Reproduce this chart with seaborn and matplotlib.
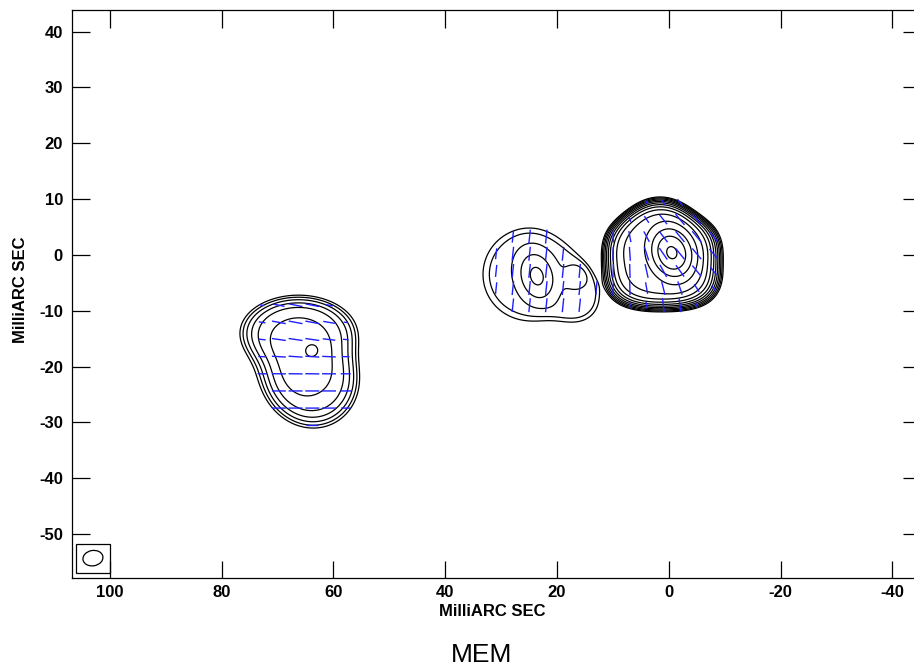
import numpy as np
import matplotlib
matplotlib.use("Agg")
import matplotlib.pyplot as plt
from matplotlib.collections import LineCollection
from matplotlib.patches import Ellipse, Rectangle
import seaborn as sns

# --- Stokes I, gaussian pieces (x, y in mas, peak, sigma major / minor in mas, pa in deg)
gauss_x = [-0.55, 23.6, 16.6, 66.2, 63.6]
gauss_y = [0.4, -3.8, -3.9, -18.4, -17.0]
gauss_amp = [71.0, 2.65, 0.9, 2.2, 1.6]
gauss_maj = [2.75, 3.0, 1.5, 5.0, 1.3]
gauss_min = [2.2, 2.1, 1.5, 5.0, 1.3]
gauss_pa = [20, 15, 0, 0, 0]

# --- Stokes I, flat topped MEM plateaus; pieces of one knot are blended softly
knot_amp = [25.0, 1.7, 5.0]
knot_pow = [5.5, 7, 4]
plat_knot = [0, 0, 1, 1, 2, 2]
plat_x = [1.1, 1.6, 25.0, 17.6, 66.3, 64.0]
plat_y = [-1.5, 1.5, -3.5, -6.3, -13.8, -22.0]
plat_maj = [6.86, 7.02, 9.0, 6.2, 8.96, 8.0]
plat_min = [8.72, 6.08, 9.0, 4.9, 5.65, 7.4]
plat_pa = [0, 0, 0, 37, 90, 25]
plat_norm = [3, 2, 2, 2, 2, 2]
blend_tau = 0.3

# --- polarisation pieces (x, y, amplitude, sigma, EVPA in deg)
pol_x = [-2.5, 8.0, -0.5, 22.0, 66.0, 65.0]
pol_y = [1.5, -2.0, -8.0, -3.5, -12.0, -24.0]
pol_amp = [3.5, 4.0, 3.0, 4.0, 4.0, 4.0]
pol_sig = [6.0, 3.5, 2.5, 8.0, 4.0, 6.0]
pol_evpa = [40, -3, 0, -6, 78, 90]

contour_levels = [1.0, 1.41, 2.0, 2.83, 4.0, 5.66, 8.0, 11.3, 16.0, 22.6, 32.0, 45.3, 64.0, 90.5]

# restoring beam
beam_x, beam_y = 103.0, -54.3
beam_major, beam_minor, beam_angle = 3.6, 2.75, -10

xticks = [100, 80, 60, 40, 20, 0, -20, -40]
yticks = [-50, -40, -30, -20, -10, 0, 10, 20, 30, 40]
xlim = (106.8, -44.95)
ylim = (-57.8, 43.85)


def component_radius(X, Y, x0, y0, maj, mnr, pa, q=2):
    t = np.deg2rad(pa)
    dx, dy = X - x0, Y - y0
    a = dx * np.sin(t) + dy * np.cos(t)
    b = dx * np.cos(t) - dy * np.sin(t)
    return (np.abs(a / maj) ** q + np.abs(b / mnr) ** q) ** (1.0 / q)


def stokes_i(X, Y):
    """Total intensity map built from the component tables."""
    img = np.zeros_like(X)
    for x0, y0, amp, maj, mnr, pa in zip(gauss_x, gauss_y, gauss_amp, gauss_maj, gauss_min, gauss_pa):
        r = component_radius(X, Y, x0, y0, maj, mnr, pa)
        img += amp * np.exp(-0.5 * r ** 2)
    # soft minimum of the normalised radii of each knot's pieces
    blend = [np.zeros_like(X) for _ in knot_amp]
    for k, x0, y0, maj, mnr, pa, q in zip(plat_knot, plat_x, plat_y, plat_maj, plat_min, plat_pa, plat_norm):
        r = component_radius(X, Y, x0, y0, maj, mnr, pa, q)
        blend[k] += np.exp(-r ** 2 / (2 * blend_tau))
    for k, (amp, p) in enumerate(zip(knot_amp, knot_pow)):
        r2 = -2 * blend_tau * np.log(np.maximum(blend[k], 1e-300))
        img += amp * np.exp(-np.clip(r2, 0, None) ** (p / 2.0))
    return img


def polarisation(X, Y):
    """Polarised intensity and EVPA from Q/U sums."""
    q = np.zeros_like(X)
    u = np.zeros_like(X)
    for x0, y0, amp, sig, chi in zip(pol_x, pol_y, pol_amp, pol_sig, pol_evpa):
        g = amp * np.exp(-((X - x0) ** 2 + (Y - y0) ** 2) / (2 * sig ** 2))
        q += g * np.cos(2 * np.deg2rad(chi))
        u += g * np.sin(2 * np.deg2rad(chi))
    return np.hypot(q, u), 0.5 * np.arctan2(u, q)


sns.set_style("ticks")
plt.rcParams['font.family'] = ['Liberation Sans', 'DejaVu Sans']
plt.rcParams['axes.unicode_minus'] = False
for key in ['text.color', 'axes.labelcolor', 'xtick.color', 'ytick.color', 'axes.edgecolor']:
    plt.rcParams[key] = 'black'

fig = plt.figure(figsize=(9.14, 6.71), dpi=100)
ax = fig.add_axes([71.7 / 914, (671 - 577.7) / 671, 848.3 / 914, 567.7 / 671])

# contour map
gx = np.arange(-15, 84, 0.1)
gy = np.arange(-40, 16, 0.1)
X, Y = np.meshgrid(gx, gy)
ax.contour(X, Y, stokes_i(X, Y), levels=contour_levels, colors='black', linewidths=0.9)

# polarisation vectors, sampled every 6 map pixels
VX, VY = np.meshgrid(0.97 + 2.99 * np.arange(-16, 30), 0.2 + 3.07 * np.arange(-14, 15))
vi = stokes_i(VX, VY)
vp, vchi = polarisation(VX, VY)
keep = (vi > 1.2) & (vp > 0.6)
vlen = np.minimum(vp[keep], 2.5)
hx = 0.5 * vlen * np.sin(vchi[keep])
hy = 0.5 * vlen * np.cos(vchi[keep])
cx, cy = VX[keep], VY[keep]
segs = np.stack([np.column_stack([cx - hx, cy - hy]), np.column_stack([cx + hx, cy + hy])], axis=1)
ax.add_collection(LineCollection(segs, colors='#2020ff', linewidths=1.0))

# beam in its box
ax.add_patch(Rectangle((beam_x - 3.0, beam_y - 2.6), 6.0, 5.2, fill=False, ec='black', lw=0.9))
ax.add_patch(Ellipse((beam_x, beam_y), beam_major, beam_minor, angle=beam_angle,
                     fill=False, ec='black', lw=0.9))

ax.set_xlim(*xlim)
ax.set_ylim(*ylim)
ax.set_xticks(xticks)
ax.set_yticks(yticks)
ax.tick_params(direction='in', length=12.6, width=0.9, top=True, right=True,
               labelsize=12, colors='black')
ax.tick_params(axis='x', pad=5.3)
ax.tick_params(axis='y', pad=6.3)
for lbl in ax.get_xticklabels() + ax.get_yticklabels():
    lbl.set_fontweight('bold')
for sp in ax.spines.values():
    sp.set_linewidth(0.9)
    sp.set_color('black')

ax.set_xlabel('MilliARC SEC', fontsize=12, fontweight='bold')
ax.set_ylabel('MilliARC SEC', fontsize=12, fontweight='bold')
ax.xaxis.set_label_coords((492 - 71.7) / 848.3, (577.7 - 604) / 567.7)
ax.yaxis.set_label_coords((28 - 71.7) / 848.3, (577.7 - 290) / 567.7)

fig.text(482 / 914, 1 - 655 / 671, 'MEM', ha='center', va='center', fontsize=19)

fig.savefig('out.png', dpi=100)
